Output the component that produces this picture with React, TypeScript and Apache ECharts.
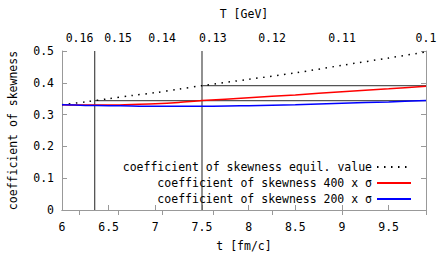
import React, { useEffect, useRef } from "react";
import * as echarts from "echarts";

// time axis samples [fm/c]
const tValues = [6, 6.25, 6.5, 6.75, 7, 7.25, 7.5, 8, 8.5, 9, 9.5, 9.9];
const equilValues = [0.331, 0.34, 0.35, 0.36, 0.369, 0.38, 0.391, 0.411, 0.431, 0.455, 0.478, 0.497];
const sigma400Values = [0.331, 0.33, 0.33, 0.332, 0.334, 0.338, 0.344, 0.353, 0.362, 0.372, 0.381, 0.389];
const sigma200Values = [0.331, 0.329, 0.328, 0.327, 0.326, 0.326, 0.326, 0.328, 0.331, 0.336, 0.34, 0.344];

// top axis: temperature ticks, T = 0.99 / t
const tempTicks = [0.16, 0.15, 0.14, 0.13, 0.12, 0.11, 0.1];
const tempTickLabels = ["0.16", "0.15", "0.14", "0.13", "0.12", "0.11", "0.1"];
const tempConst = 0.99;

// reference (guide) lines
const guideV1 = [[6.35, 0], [6.35, 0.5]];
const guideV2 = [[7.5, 0], [7.5, 0.5]];
const guideH1 = [[6.35, 0.344], [9.9, 0.344]];
const guideH2 = [[7.5, 0.391], [9.9, 0.391]];

const seriesNames = [
  "coefficient of skewness equil. value",
  "coefficient of skewness 400 x σ",
  "coefficient of skewness 200 x σ",
];

const FONT = "DejaVu Sans Mono";
const FS = 11.5;

export default function App() {
  const ref = useRef<HTMLDivElement>(null);
  useEffect(() => {
    if (!ref.current) return;
    const chart = echarts.init(ref.current, null, { renderer: "svg" });
    const tempT = tempTicks.map((T) => tempConst / T);
    const zip = (ys: number[]) => tValues.map((t, i) => [t, ys[i]]);
    const axisColor = "#999";
    const guideStyle = { color: "#555", width: 1.3 };
    const guide = (data: number[][]) => ({
      type: "line",
      data,
      symbol: "none",
      silent: true,
      lineStyle: guideStyle,
      z: 1,
    });
    const legendTops = [161, 177, 193];
    chart.setOption({
      animation: false,
      textStyle: { fontFamily: FONT, fontSize: FS, color: "#000" },
      grid: { left: 62, right: 11, top: 51, bottom: 43, containLabel: false, outerBoundsMode: "none" },
      legend: seriesNames.map((n, i) => ({
        data: [n],
        right: 25,
        top: legendTops[i],
        orient: "vertical",
        align: "right",
        itemWidth: 34,
        itemHeight: 12,
        padding: 0,
        selectedMode: false,
        itemStyle: { opacity: 0 },
        textStyle: { fontFamily: FONT, fontSize: FS, color: "#000" },
      })),
      xAxis: [
        {
          type: "value",
          min: 6,
          max: 9.9,
          interval: 0.5,
          position: "bottom",
          name: "t [fm/c]",
          nameLocation: "middle",
          nameGap: 30,
          nameTextStyle: { fontFamily: FONT, fontSize: FS, color: "#000" },
          axisLine: { show: true, lineStyle: { color: axisColor } },
          axisTick: { show: true, inside: true, length: 5, lineStyle: { color: axisColor } },
          axisLabel: {
            margin: 11,
            showMaxLabel: false,
            fontFamily: FONT,
            fontSize: FS,
            color: "#000",
          },
          splitLine: { show: false },
        },
        {
          type: "value",
          min: 6,
          max: 9.9,
          position: "top",
          name: "T [GeV]",
          nameLocation: "middle",
          nameGap: 31,
          nameTextStyle: { fontFamily: FONT, fontSize: FS, color: "#000" },
          axisLine: { show: true, lineStyle: { color: axisColor } },
          axisTick: {
            show: true,
            inside: true,
            length: 5,
            customValues: tempT,
            lineStyle: { color: axisColor },
          },
          axisLabel: {
            margin: 7,
            customValues: tempT,
            fontFamily: FONT,
            fontSize: FS,
            color: "#000",
            formatter: (v: number) => {
              let best = 0;
              let bd = Infinity;
              tempT.forEach((t, i) => {
                const d = Math.abs(t - v);
                if (d < bd) {
                  bd = d;
                  best = i;
                }
              });
              return tempTickLabels[best];
            },
          },
          splitLine: { show: false },
        },
      ],
      yAxis: [
        {
          type: "value",
          min: 0,
          max: 0.5,
          interval: 0.1,
          position: "left",
          name: "coefficient of skewness",
          nameLocation: "middle",
          nameGap: 43,
          nameTextStyle: { fontFamily: FONT, fontSize: FS, color: "#000" },
          axisLine: { show: true, lineStyle: { color: axisColor } },
          axisTick: { show: true, inside: true, length: 5, lineStyle: { color: axisColor } },
          axisLabel: { margin: 8, fontFamily: FONT, fontSize: FS, color: "#000" },
          splitLine: { show: false },
        },
        {
          type: "value",
          min: 0,
          max: 0.5,
          interval: 0.1,
          position: "right",
          axisLine: { show: true, lineStyle: { color: axisColor } },
          axisTick: { show: true, inside: true, length: 5, lineStyle: { color: axisColor } },
          axisLabel: { show: false },
          splitLine: { show: false },
        },
      ],
      series: [
        guide(guideV1),
        guide(guideV2),
        guide(guideH1),
        guide(guideH2),
        {
          name: seriesNames[0],
          type: "line",
          data: zip(equilValues),
          symbol: "none",
          smooth: 0.3,
          z: 3,
          itemStyle: { color: "#000" },
          lineStyle: { color: "#000", width: 1.5, type: [1.5, 5.5] },
        },
        {
          name: seriesNames[1],
          type: "line",
          data: zip(sigma400Values),
          symbol: "none",
          smooth: 0.3,
          z: 3,
          itemStyle: { color: "#ff0000" },
          lineStyle: { color: "#ff0000", width: 1.5 },
        },
        {
          name: seriesNames[2],
          type: "line",
          data: zip(sigma200Values),
          symbol: "none",
          smooth: 0.3,
          z: 3,
          itemStyle: { color: "#0000ff" },
          lineStyle: { color: "#0000ff", width: 1.5 },
        },
      ],
    });
    return () => chart.dispose();
  }, []);
  return (
    <div
      ref={ref}
      style={{ position: "fixed", left: 0, top: 0, width: 437, height: 253, background: "#fff" }}
    />
  );
}
